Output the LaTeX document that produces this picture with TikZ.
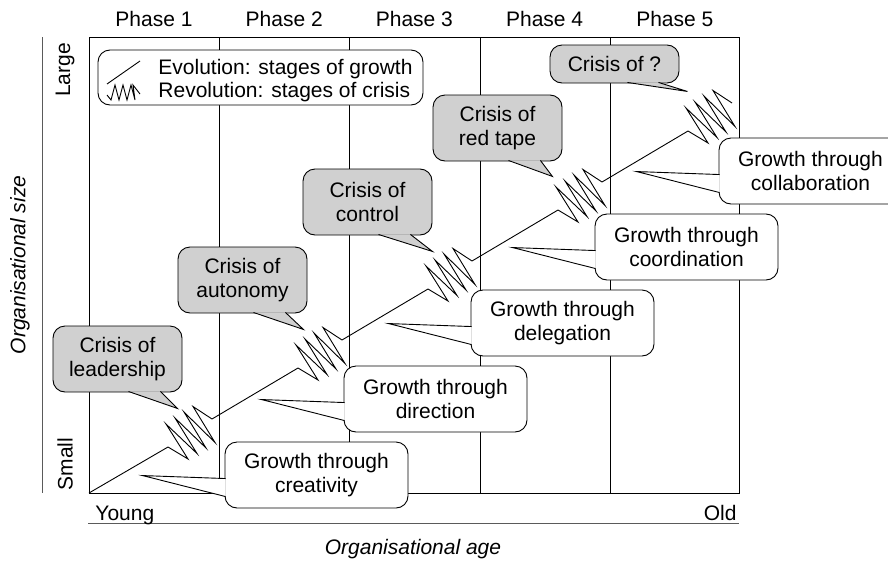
\documentclass[tikz,border=0pt]{standalone}
\usepackage{fontspec}
\setmainfont{Liberation Sans}
\usetikzlibrary{calc}

\definecolor{crisisgray}{RGB}{208,208,208}
\definecolor{axisgray}{RGB}{90,90,90}

\tikzset{
    txt/.style={font=\fontsize{21}{24.5}\selectfont, inner sep=0pt},
    crisisbox/.style={txt, draw, fill=crisisgray, rounded corners=12pt, align=center,
        minimum width=129pt, minimum height=66pt},
    growthbox/.style={txt, draw, fill=white, rounded corners=12pt, align=center,
        minimum width=183pt, minimum height=66pt},
    axisline/.style={draw=axisgray},
    revolution/.pic={
        \draw (0,0) coordinate (-start) -- (20,12) -- (-2,-23) -- (29,6.5) -- (7,-29)
            -- (38,1) -- (16,-35) -- (47,-4.5) -- (25,-40.5) -- (44,-28) coordinate (-end);
    },
}

\newcommand{\crisistail}[2]{%
    \filldraw[fill=crisisgray] ($(#1.south east)+(-54,-1)$) -- ($(#1.south east)+#2$)
        -- ($(#1.south east)+(-22,-1)$);}
\newcommand{\growthtail}[1]{%
    \filldraw[fill=white] ($(#1.north west)+(1,37)$) -- ($(#1.north west)+(-82,34)$)
        -- ($(#1.north west)+(1,55)$);}

\begin{document}
\begin{tikzpicture}[x=1pt, y=-1pt, line width=0.9pt]
    \useasboundingbox (0,0) rectangle (888,565);
    \clip (0,0) rectangle (888,565);

    % frame and phases
    \draw (89,37) rectangle (739,493);
    \foreach \x in {219,349,480,610}
        \draw (\x,37) -- (\x,493);
    \foreach \k in {1,...,5}
        \node[txt] (ph\k) at ({154+130.2*(\k-1)},19) {Phase \k};

    % axes
    \draw[axisline] (42,37) -- (42,493);
    \draw[axisline] (88,523) -- (739,523);
    \node[txt, rotate=90] (large) at (65,70) {Large};
    \node[txt, rotate=90] (small) at (65,464) {Small};
    \node[txt, rotate=90, font=\fontsize{21}{24.5}\selectfont\itshape] (sizelab) at (20,265) {Organisational size};
    \node[txt, anchor=base west] (young) at (95,520) {Young};
    \node[txt, anchor=base east] (old) at (737,520) {Old};
    \node[txt, font=\fontsize{21}{24.5}\selectfont\itshape] (agelab) at (413,549) {Organisational age};

    % legend
    \node[draw, fill=white, rounded corners=12pt, minimum width=325pt, minimum height=55pt] (legend) at (260.5,77.5) {};
    \draw (107,84) -- (140,61);
    \draw (107,95) -- (111,100) -- (115,85) -- (119,100) -- (123,85) -- (127,100) -- (131,85)
        -- (135,100) -- (133,85) -- (140,94);
    \node[txt, anchor=west] (evo) at (158,69) {Evolution: stages of growth};
    \node[txt, anchor=west] (rev) at (158,92) {Revolution: stages of crisis};

    % evolution and revolution
    \coordinate (origin) at (89,493);
    \foreach \k in {1,...,5}
        \pic (z\k) at ({168+130*(\k-1)},{447-79*(\k-1)}) {revolution};
    \draw (origin) -- (z1-start);
    \foreach \a/\b in {1/2,2/3,3/4,4/5}
        \draw (z\a-end) -- (z\b-start);

    % crises
    \node[crisisbox] (lead) at (117.5,359) {Crisis of\\leadership};
    \crisistail{lead}{(-5,16)}
    \node[crisisbox] (auto) at (242.5,280) {Crisis of\\autonomy};
    \crisistail{auto}{(-4,16)}
    \node[crisisbox] (ctrl) at (367.5,202) {Crisis of\\control};
    \crisistail{ctrl}{(0,16)}
    \node[crisisbox] (tape) at (497.5,128) {Crisis of\\red tape};
    \crisistail{tape}{(-10,15)}
    \node[crisisbox, minimum height=38pt] (unknown) at (614.5,64) {Crisis of ?};
    \filldraw[fill=crisisgray] ($(unknown.south east)+(-52,-1)$) -- ($(unknown.south east)+(8,8)$)
        -- ($(unknown.south east)+(-21,-1)$);

    % growth
    \node[growthbox] (creat) at (316.5,475) {Growth through\\creativity};
    \growthtail{creat}
    \node[growthbox] (direc) at (435.5,399) {Growth through\\direction};
    \growthtail{direc}
    \node[growthbox] (deleg) at (562.5,323) {Growth through\\delegation};
    \growthtail{deleg}
    \node[growthbox] (coord) at (686.5,247) {Growth through\\coordination};
    \growthtail{coord}
    \node[growthbox] (collab) at (810.5,171) {Growth through\\collaboration};
    \growthtail{collab}
\end{tikzpicture}
\end{document}
